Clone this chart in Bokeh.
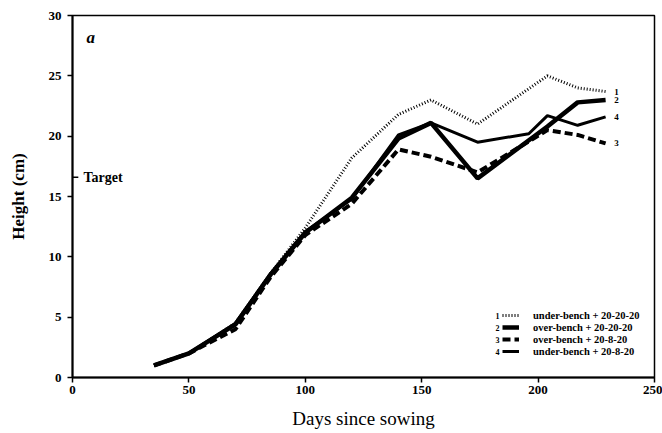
from bokeh.plotting import figure
from bokeh.models import Range1d, Legend, LegendItem, Label, FixedTicker
from bokeh.embed import file_html
from bokeh.resources import INLINE

# ---- data ----
days = [35, 50, 70, 85, 100, 120, 140, 154, 174, 204, 217, 229]
s1_under_202020 = [1.0, 2.0, 4.5, 8.6, 12.4, 18.2, 21.8, 23.0, 21.0, 25.0, 24.0, 23.7]
s2_over_202020 = [1.0, 2.0, 4.4, 8.5, 12.0, 14.9, 19.8, 21.1, 16.5, 20.8, 22.8, 23.0]
s3_over_20820 = [1.0, 2.0, 4.0, 8.3, 11.8, 14.4, 18.9, 18.3, 17.0, 20.5, 20.1, 19.4]
days4 = [35, 50, 70, 85, 100, 120, 140, 154, 174, 196, 204, 217, 229]
s4_under_20820 = [1.0, 2.0, 4.5, 8.6, 12.1, 14.8, 20.1, 21.1, 19.5, 20.2, 21.7, 20.9, 21.6]

series_names = ["under-bench + 20-20-20", "over-bench + 20-20-20",
                "over-bench + 20-8-20", "under-bench + 20-8-20"]
series_numbers = ["1", "2", "3", "4"]
target_value = 16.6
x_ticks = [0, 50, 100, 150, 200, 250]
y_ticks = [0, 5, 10, 15, 20, 25, 30]

SERIF = "Liberation Serif"

W, H = 662, 433
ML, MR, MT, MB = 72, 8, 15, 56
FW, FH = W - ML - MR, H - MT - MB

p = figure(width=W, height=H, output_backend="svg", toolbar_location=None,
           x_range=Range1d(0, 250), y_range=Range1d(0, 30),
           min_border_left=ML, min_border_right=MR, min_border_top=MT,
           min_border_bottom=MB)
p.grid.visible = False
p.outline_line_color = "black"
p.outline_line_width = 1.5
p.background_fill_color = "white"
p.border_fill_color = "white"

for ax in (p.xaxis[0], p.yaxis[0]):
    ax.axis_line_width = 2
    ax.axis_line_color = "black"
    ax.major_tick_in = 0
    ax.major_tick_out = 5
    ax.major_tick_line_width = 1.5
    ax.major_tick_line_color = "black"
    ax.minor_tick_line_color = None
    ax.major_label_text_font = SERIF
    ax.major_label_text_font_style = "bold"
    ax.major_label_text_font_size = "13px"
    ax.major_label_text_color = "black"
    ax.axis_label_text_font = SERIF
    ax.axis_label_text_color = "black"

p.xaxis.ticker = FixedTicker(ticks=x_ticks)
p.yaxis.ticker = FixedTicker(ticks=y_ticks)
p.xaxis.major_label_standoff = 3
p.yaxis.major_label_standoff = 6
p.xaxis.axis_label = "Days since sowing"
p.xaxis.axis_label_text_font_size = "19px"
p.xaxis.axis_label_text_font_style = "normal"
p.xaxis.axis_label_standoff = 11
p.yaxis.axis_label = "Height (cm)"
p.yaxis.axis_label_text_font_size = "17px"
p.yaxis.axis_label_text_font_style = "bold"
p.yaxis.axis_label_standoff = 18

r1 = p.line(days, s1_under_202020, line_color="black", line_width=3, line_dash="1 2")
r2 = p.line(days, s2_over_202020, line_color="black", line_width=4.5)
r3 = p.line(days, s3_over_20820, line_color="black", line_width=4, line_dash="8 4")
r4 = p.line(days4, s4_under_20820, line_color="black", line_width=3)
renderers = [r1, r2, r3, r4]

# legend (screen-positioned inside frame)
LEG_X, LEG_Y, ROW = 430, 20, 12
legend = Legend(items=[LegendItem(label=n, renderers=[r]) for n, r in zip(series_names, renderers)],
                location=(LEG_X, LEG_Y), padding=0, margin=0, spacing=0,
                glyph_width=17, glyph_height=ROW, label_height=ROW, label_standoff=14,
                label_text_font=SERIF, label_text_font_style="bold",
                label_text_font_size="10.5px", label_text_color="black",
                border_line_color=None, background_fill_alpha=0)
p.add_layout(legend)

px_per_x = FW / 250.0
px_per_y = FH / 30.0
for i, num in enumerate(series_numbers):
    cy = LEG_Y + (3 - i) * ROW + ROW / 2
    p.add_layout(Label(x=(LEG_X - 5) / px_per_x, y=cy / px_per_y, text=num,
                       text_align="center", text_baseline="middle", text_color="black",
                       text_font=SERIF, text_font_style="bold", text_font_size="8px"))

# end-of-line numbers
ends = [s1_under_202020[-1], s2_over_202020[-1], s3_over_20820[-1], s4_under_20820[-1]]
last_x = [days[-1], days[-1], days[-1], days4[-1]]
for num, xv, yv in zip(series_numbers, last_x, ends):
    p.add_layout(Label(x=xv, y=yv, x_offset=11, text=num, text_align="center",
                       text_baseline="middle", text_color="black", text_font=SERIF,
                       text_font_style="bold", text_font_size="9px"))

# panel letter
p.add_layout(Label(x=0, y=30, x_offset=14, y_offset=-22, text="a", text_font=SERIF,
                   text_font_style="bold italic", text_font_size="17px",
                   text_color="black", text_baseline="alphabetic"))

# target marker
p.segment(x0=[0], y0=[target_value], x1=[2.5], y1=[target_value],
          line_color="black", line_width=1.5)
p.add_layout(Label(x=0, y=target_value, x_offset=11, text="Target", text_font=SERIF,
                   text_font_style="bold", text_font_size="14px", text_color="black",
                   text_baseline="alphabetic"))

open("out.html", "w").write(file_html(p, INLINE))
